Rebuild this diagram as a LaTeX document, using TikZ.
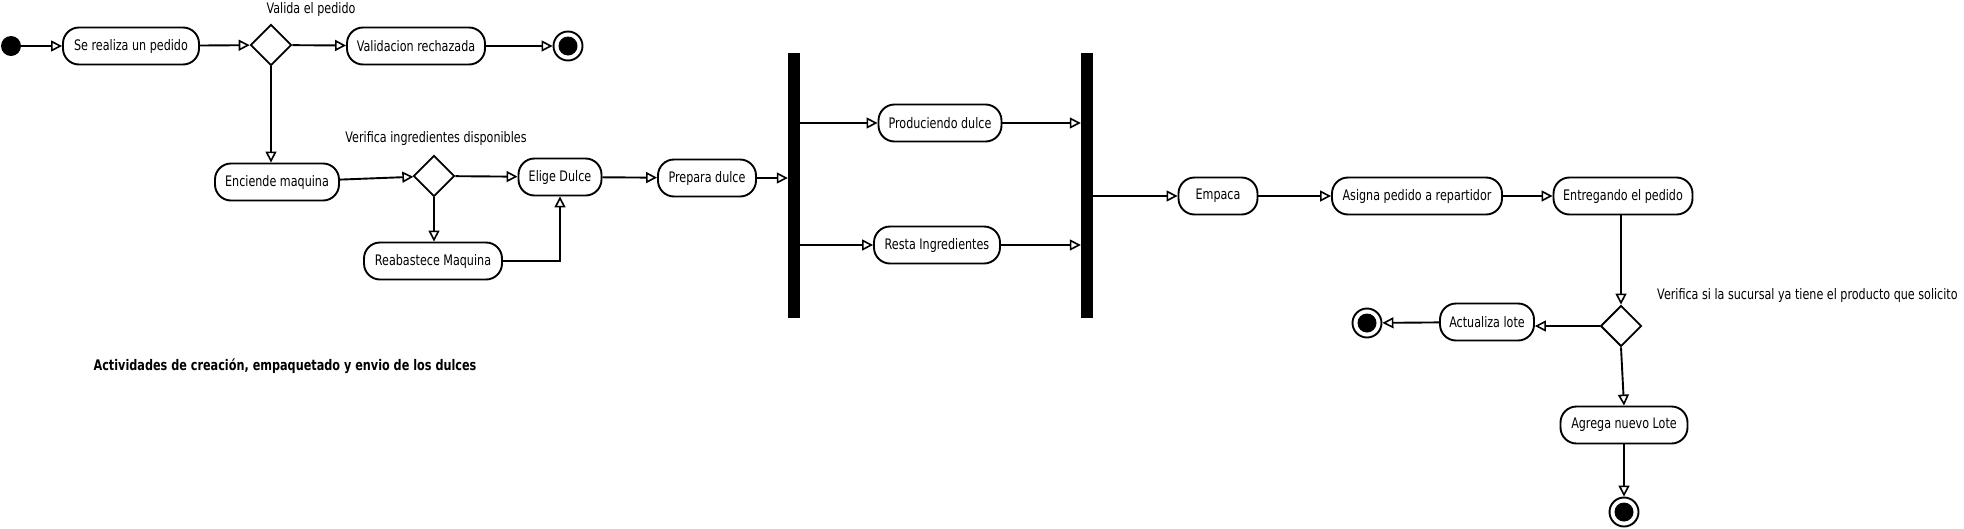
\documentclass[tikz,border=0pt]{standalone}
\usepackage{fontspec}
\setmainfont{DejaVu Sans}[FakeStretch=0.77]
\usetikzlibrary{arrows.meta,shapes.geometric,calc}
\begin{document}
\begin{tikzpicture}[x=1pt,y=-1pt,
  every node/.style={font=\fontsize{14.5}{17}\selectfont},
  act/.style={draw,line width=1.9pt,rounded corners=16pt,minimum height=37pt,inner sep=0pt,fill=white},
  dec/.style={draw,diamond,line width=1.9pt,minimum width=41pt,minimum height=41pt,inner sep=0pt,fill=white},
  bar/.style={fill=black,draw=none,minimum width=12pt,minimum height=265pt,inner sep=0pt},
  startnode/.style={circle,fill=black,minimum size=20pt,inner sep=0pt},
  endnode/.style={circle,draw,line width=1.9pt,minimum size=29pt,inner sep=0pt,
    path picture={\fill (path picture bounding box.center) circle (9.5pt);}},
  lbl/.style={inner sep=0pt},
  arr/.style={line width=1.9pt,-{Triangle[open,length=11pt,width=11pt,fill=white,line width=1.6pt]}}
]
\useasboundingbox (0,0) rectangle (1964,528);

% top row
\node[startnode] (init) at (11,46) {};
\node[act,minimum width=136pt] (A) at (131,46) {Se realiza un pedido};
\node[dec] (D1) at (271,45) {};
\node[lbl] (lD1) at (311,9) {Valida el pedido};
\node[act,minimum width=138pt] (B) at (416,46) {Validacion rechazada};
\node[endnode] (E1) at (568,46) {};

% second row
\node[act,minimum width=124pt] (C) at (277,182) {Enciende maquina};
\node[lbl] (lD2) at (436,138) {Verifica ingredientes disponibles};
\node[dec] (D2) at (434,176) {};
\node[act,minimum width=83pt] (F) at (560,177) {Elige Dulce};
\node[act,minimum width=138pt] (G) at (433,261) {Reabastece Maquina};
\node[act,minimum width=98pt] (H) at (707,178) {Prepara dulce};

% fork / join
\node[bar] (bar1) at (794,185) {};
\node[act,minimum width=123pt] (I) at (940,123) {Produciendo dulce};
\node[act,minimum width=126pt] (J) at (937,245) {Resta Ingredientes};
\node[bar] (bar2) at (1087,185.5) {};

% right part
\node[act,minimum width=79pt] (K) at (1218,196) {Empaca};
\node[act,minimum width=170pt] (L) at (1417,196) {Asigna pedido a repartidor};
\node[act,minimum width=139pt] (M) at (1623,196) {Entregando el pedido};
\node[dec] (D3) at (1621,326) {};
\node[lbl,anchor=west] (lD3) at (1657,295) {Verifica si la sucursal ya tiene el producto que solicito};
\node[act,minimum width=94pt] (N) at (1487,322) {Actualiza lote};
\node[endnode] (E2) at (1367,323) {};
\node[act,minimum width=127pt] (O) at (1624,425) {Agrega nuevo Lote};
\node[endnode] (E3) at (1624,512) {};

\node[lbl,font=\fontsize{14.6}{17}\selectfont\bfseries] (title) at (285,366) {Actividades de creación, empaquetado y envio de los dulces};

% connectors
\draw[arr] (init) -- (A);
\draw[arr] (A) -- (D1);
\draw[arr] (D1) -- (B);
\draw[arr] (B) -- (E1);
\draw[arr] (D1.south) -- (D1.south |- C.north);
\draw[arr] (C) -- (D2);
\draw[arr] (D2) -- (F);
\draw[arr] (D2.south) -- (D2.south |- G.north);
\draw[arr] (G.east) -| (F.south);
\draw[arr] (F) -- (H);
\draw[arr] (H.east) -- (H.east -| bar1.west);
\draw[arr] (I.west -| bar1.east) -- (I.west);
\draw[arr] (J.west -| bar1.east) -- (J.west);
\draw[arr] (I.east) -- (I.east -| bar2.west);
\draw[arr] (J.east) -- (J.east -| bar2.west);
\draw[arr] (K.west -| bar2.east) -- (K.west);
\draw[arr] (K) -- (L);
\draw[arr] (L) -- (M);
\draw[arr] (M.south -| D3.north) -- (D3.north);
\draw[arr] (D3.west) -- (D3.west -| N.east);
\draw[arr] (N) -- (E2);
\draw[arr] (D3.south) -- (O.north);
\draw[arr] (O) -- (E3);
\end{tikzpicture}
\end{document}
